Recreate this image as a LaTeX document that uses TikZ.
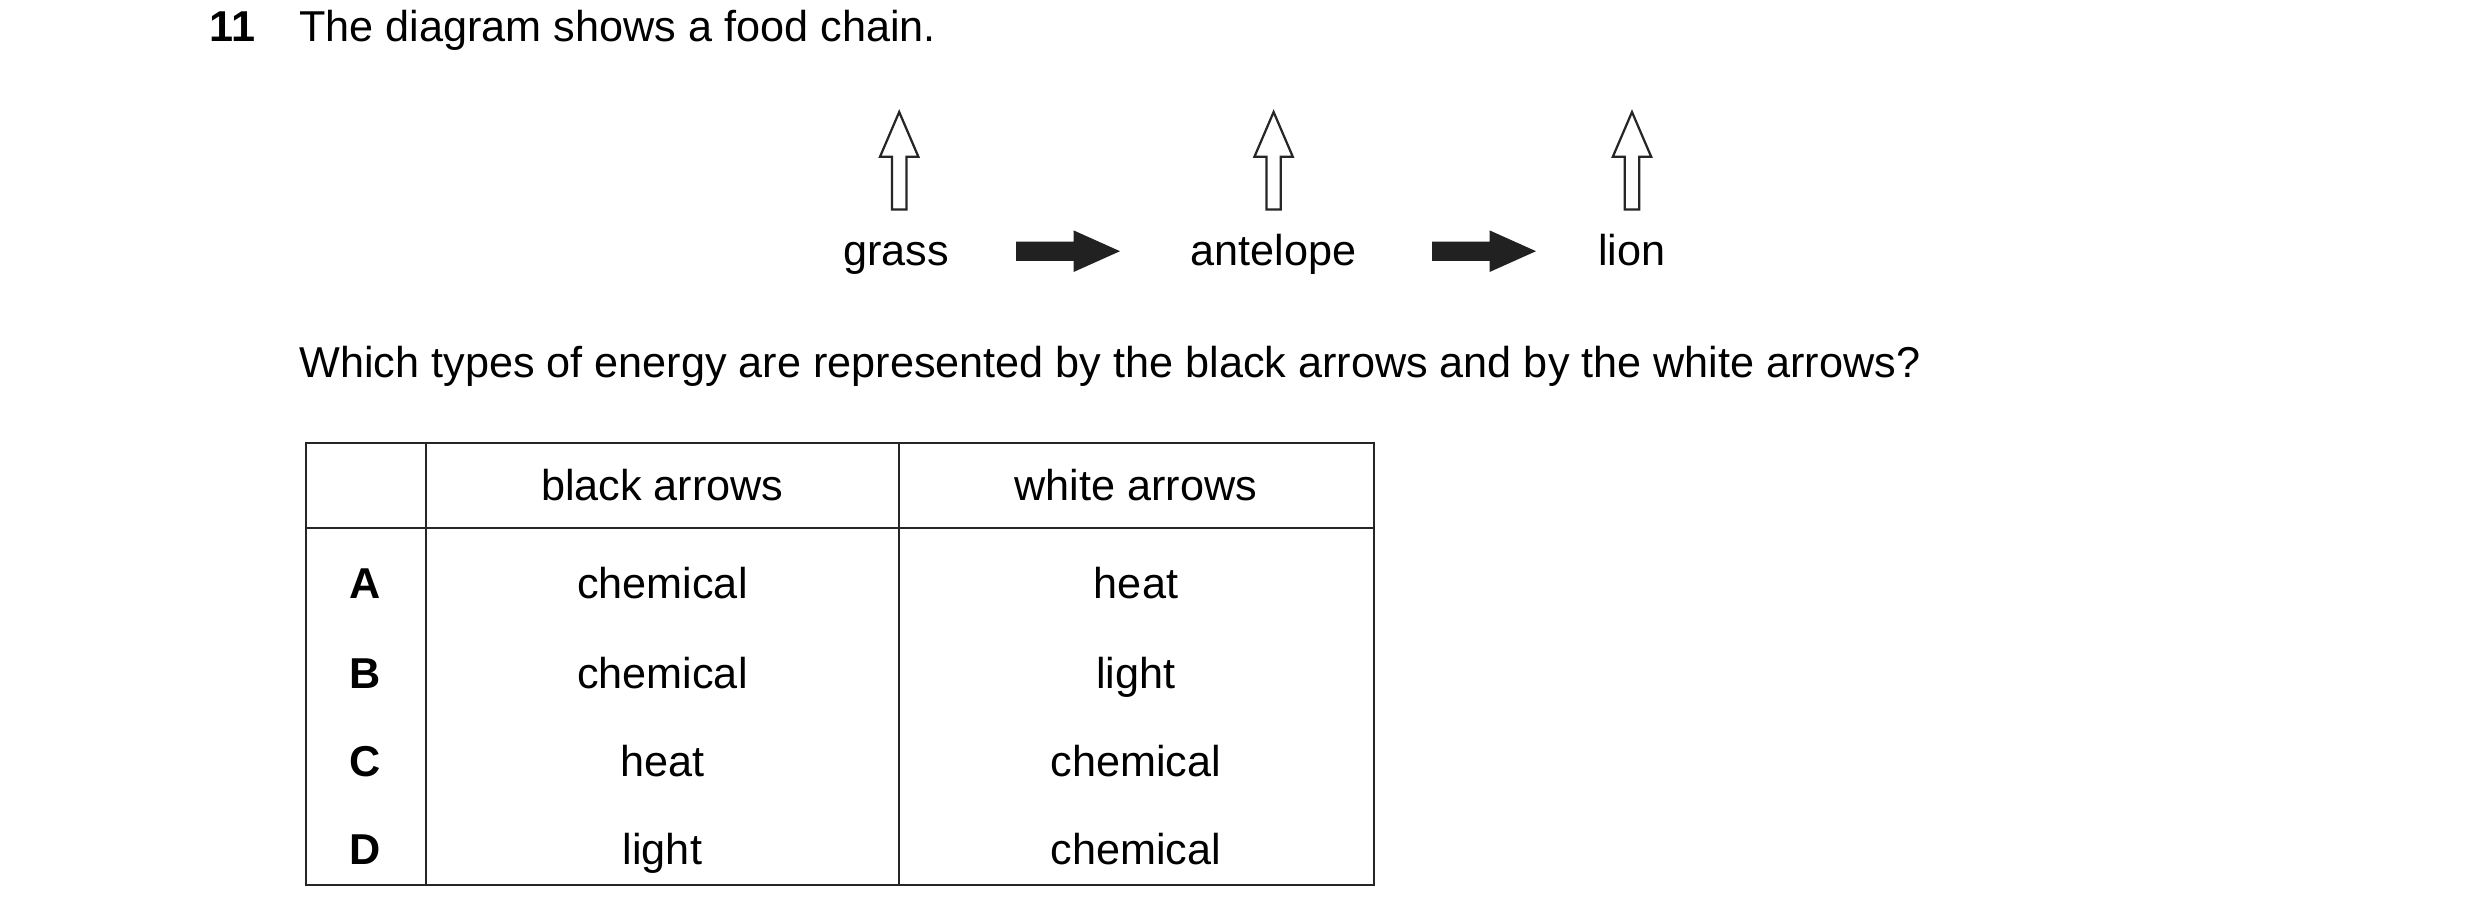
\documentclass[tikz,border=0pt]{standalone}
\usepackage{fontspec}
\setmainfont{Liberation Sans}
\begin{document}
\begin{tikzpicture}[x=1pt,y=-1pt,
  txt/.style={font=\fontsize{27}{32}\selectfont,inner sep=0pt,anchor=base},
  lbl/.style={font=\fontsize{27}{32}\selectfont\bfseries,inner sep=0pt,anchor=base},
  tbl/.style={line width=1.3pt,draw=black!85},
  white arrow/.style={draw=black!85,line width=1.4pt,fill=white,line join=miter},
  black arrow/.style={fill=black!87}]
\useasboundingbox (0,0) rectangle (1550,572);
\node[lbl,anchor=base west] (num) at (131,26) {11};
\node[txt,anchor=base west] (q1) at (187,26) {The diagram shows a food chain.};
% labels
\node[txt] (grass) at (560,166) {grass};
\node[txt] (antelope) at (796,166) {antelope};
\node[txt] (lion) at (1020,166) {lion};
% white arrows
\foreach \x/\n in {562/wa,796/wb,1020/wc}{
  \draw[white arrow] (\x-4.5,131) -- (\x-4.5,98) -- (\x-12,98) -- (\x,70) -- (\x+12,98) -- (\x+4.5,98) -- (\x+4.5,131) -- cycle;
}
% black arrows
\foreach \a in {635,895}{
  \fill[black arrow] (\a,151) -- (\a+36,151) -- (\a+36,144) -- (\a+65,157) -- (\a+36,170) -- (\a+36,163) -- (\a,163) -- cycle;
}
\node[txt,anchor=base west] (q2) at (187,236) {Which types of energy are represented by the black arrows and by the white arrows?};
% table
\draw[tbl] (191,277) rectangle (859,553);
\draw[tbl] (191,330) -- (859,330);
\draw[tbl] (266,277) -- (266,553);
\draw[tbl] (562,277) -- (562,553);
\node[txt] (h1) at (414,313) {black arrows};
\node[txt] (h2) at (710,313) {white arrows};
\foreach \y/\l/\b/\w in {374/A/chemical/heat,430/B/chemical/light,485/C/heat/chemical,540/D/light/chemical}{
  \node[lbl] at (228,\y) {\l};
  \node[txt] at (414,\y) {\b};
  \node[txt] at (710,\y) {\w};
}
\end{tikzpicture}
\end{document}
